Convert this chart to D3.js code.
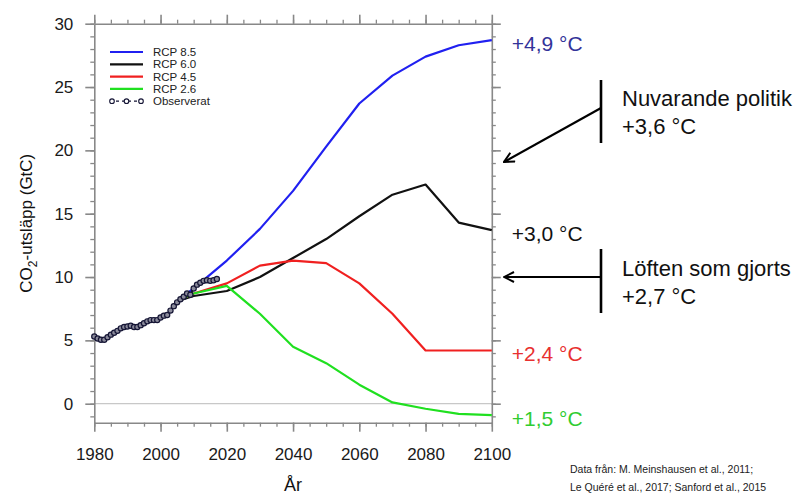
<!DOCTYPE html>
<html>
<head>
<meta charset="utf-8">
<script src="https://cdn.jsdelivr.net/npm/d3@7"></script>
<style>
  body { margin: 0; background: #fff; }
  svg { font-family: "Liberation Sans", Arial, sans-serif; }
</style>
</head>
<body>
<svg id="chart" width="802" height="495"></svg>
<script>
// scenario years and values (GtC)
const rcpYears = [2005, 2010, 2020, 2030, 2040, 2050, 2060, 2070, 2080, 2090, 2100];
const rcp85 = [8.1, 9.1, 11.3, 13.8, 16.8, 20.3, 23.7, 25.9, 27.4, 28.3, 28.7];
const rcp60 = [8.1, 8.5, 8.9, 10.0, 11.5, 13.0, 14.8, 16.5, 17.3, 14.3, 13.7];
const rcp45 = [8.1, 8.7, 9.5, 10.9, 11.3, 11.1, 9.5, 7.1, 4.2, 4.2, 4.2];
const rcp26 = [8.1, 8.7, 9.3, 7.1, 4.5, 3.2, 1.5, 0.1, -0.4, -0.8, -0.9];

const obsYears = d3.range(1980, 2018);
const obsValues = [5.3, 5.15, 5.05, 5.05, 5.25, 5.45, 5.6, 5.75, 5.95, 6.05,
                   6.1, 6.15, 6.05, 6.05, 6.2, 6.35, 6.5, 6.6, 6.6, 6.6,
                   6.8, 6.95, 7.0, 7.35, 7.7, 8.0, 8.25, 8.45, 8.7, 8.6,
                   9.1, 9.4, 9.55, 9.7, 9.75, 9.7, 9.75, 9.85];

const seriesNames = ["RCP 8.5", "RCP 6.0", "RCP 4.5", "RCP 2.6"];
const seriesColors = ["#2020f0", "#111111", "#f02020", "#20e020"];
const endLabels = ["+4,9 °C", "+3,0 °C", "+2,4 °C", "+1,5 °C"];
const endLabelColors = ["#333399", "#111111", "#e83030", "#30cc30"];

const svg = d3.select("#chart");
const pL = 94.3, pR = 491.8, pT = 23.7, pB = 422.7;

const x = d3.scaleLinear().domain([1980, 2100]).range([pL, pR]);
const y = d3.scaleLinear().domain([-1.5, 30]).range([pB, pT]);

const axisColor = "#888";

// zero line
svg.append("line")
    .attr("x1", pL).attr("x2", pR)
    .attr("y1", y(0)).attr("y2", y(0))
    .attr("stroke", "#c8c8c8").attr("stroke-width", 1.3);

// minor ticks
function minor(axis, sel){
    sel.call(axis.tickFormat("").tickSizeOuter(0));
    sel.select(".domain").remove();
    sel.selectAll("line").attr("stroke", axisColor).attr("stroke-width", 1.3);
}
const minorX = d3.range(1980, 2101, 5);
const minorY = d3.range(-1, 31, 1);
minor(d3.axisBottom(x).tickValues(minorX).tickSize(4), svg.append("g").attr("transform", `translate(0,${pB})`));
minor(d3.axisTop(x).tickValues(minorX).tickSize(4), svg.append("g").attr("transform", `translate(0,${pT})`));
minor(d3.axisLeft(y).tickValues(minorY).tickSize(4), svg.append("g").attr("transform", `translate(${pL},0)`));
minor(d3.axisRight(y).tickValues(minorY).tickSize(4), svg.append("g").attr("transform", `translate(${pR},0)`));

// major ticks
function major(sel){
    sel.select(".domain").attr("stroke", axisColor).attr("stroke-width", 1.6);
    sel.selectAll("line").attr("stroke", axisColor).attr("stroke-width", 1.6);
    sel.selectAll("text").attr("fill", "#1a1a1a").style("font-size", "17px");
}
const xt = d3.range(1980, 2101, 20), yt = d3.range(0, 31, 5);
svg.append("g").attr("transform", `translate(0,${pB})`)
    .call(d3.axisBottom(x).tickValues(xt).tickFormat(d3.format("d")).tickSize(9).tickPadding(16).tickSizeOuter(0))
    .call(major);
svg.append("g").attr("transform", `translate(0,${pT})`)
    .call(d3.axisTop(x).tickValues(xt).tickFormat("").tickSize(9).tickSizeOuter(0))
    .call(major);
svg.append("g").attr("transform", `translate(${pL},0)`)
    .call(d3.axisLeft(y).tickValues(yt).tickSize(9).tickPadding(12).tickSizeOuter(0))
    .call(major);
svg.append("g").attr("transform", `translate(${pR},0)`)
    .call(d3.axisRight(y).tickValues(yt).tickFormat("").tickSize(9).tickSizeOuter(0))
    .call(major);

// axis titles
const yl = svg.append("text")
    .attr("transform", `translate(32,${(pT + pB) / 2}) rotate(-90)`)
    .attr("text-anchor", "middle")
    .style("font-size", "17px").attr("fill", "#111");
yl.append("tspan").text("CO");
yl.append("tspan").text("2").attr("dy", 5).style("font-size", "12px");
yl.append("tspan").text("-utsläpp (GtC)").attr("dy", -5);

svg.append("text")
    .attr("x", (pL + pR) / 2).attr("y", 491)
    .attr("text-anchor", "middle")
    .style("font-size", "18px").attr("fill", "#111")
    .text("År");

// scenario lines
const line = d3.line().x(d => x(d[0])).y(d => y(d[1]));
const allSeries = [rcp85, rcp60, rcp45, rcp26];
allSeries.forEach(function(vals, i){
    svg.append("path")
        .datum(rcpYears.map((yr, j) => [yr, vals[j]]))
        .attr("d", line)
        .attr("fill", "none")
        .attr("stroke", seriesColors[i])
        .attr("stroke-width", 2.2)
        .attr("stroke-linejoin", "round");
});

// observed
const obs = obsYears.map((yr, j) => [yr, obsValues[j]]);
svg.append("path")
    .datum(obs)
    .attr("d", line)
    .attr("fill", "none")
    .attr("stroke", "#151535")
    .attr("stroke-width", 2);
svg.append("g").selectAll("circle")
    .data(obs)
    .enter()
    .append("circle")
        .attr("cx", d => x(d[0]))
        .attr("cy", d => y(d[1]))
        .attr("r", 2.6)
        .attr("fill", "#8a8a9a")
        .attr("stroke", "#151535")
        .attr("stroke-width", 1.2);

// end labels
allSeries.forEach(function(vals, i){
    let yy = y(vals[vals.length - 1]) + 3;
    svg.append("text")
        .attr("x", pR + 20).attr("y", yy)
        .attr("dy", "0.36em")
        .style("font-size", "21px")
        .attr("fill", endLabelColors[i])
        .text(endLabels[i]);
});

// legend
const rowH = 12.3;
const lg = svg.append("g").attr("transform", "translate(110,52)");
seriesNames.forEach(function(n, i){
    lg.append("line")
        .attr("x1", 0).attr("x2", 33)
        .attr("y1", i * rowH).attr("y2", i * rowH)
        .attr("stroke", seriesColors[i]).attr("stroke-width", 2.2);
    lg.append("text")
        .attr("x", 43).attr("y", i * rowH).attr("dy", "0.36em")
        .style("font-size", "11.5px").attr("fill", "#222")
        .text(n);
});
lg.append("line")
    .attr("x1", 0).attr("x2", 33).attr("y1", 4 * rowH).attr("y2", 4 * rowH)
    .attr("stroke", "#151535").attr("stroke-width", 1.2).attr("stroke-dasharray", "3,3");
[2, 16.5, 31].forEach(function(cx){
    lg.append("circle").attr("cx", cx).attr("cy", 4 * rowH).attr("r", 2.3)
        .attr("fill", "#fff").attr("stroke", "#151535").attr("stroke-width", 1.1);
});
lg.append("text")
    .attr("x", 43).attr("y", 4 * rowH).attr("dy", "0.36em")
    .style("font-size", "11.5px").attr("fill", "#222")
    .text("Observerat");

// annotations
svg.append("defs").append("marker")
    .attr("id", "arrow")
    .attr("viewBox", "0 0 12 12")
    .attr("refX", 1).attr("refY", 6)
    .attr("markerWidth", 12).attr("markerHeight", 12)
    .attr("markerUnits", "userSpaceOnUse")
    .attr("orient", "auto")
    .append("path")
        .attr("d", "M11,1 L1,6 L11,11")
        .attr("fill", "none").attr("stroke", "#000").attr("stroke-width", 2);

const notes = [
    {y1: 80, y2: 143, from: 108, to: [504, 162], t1: "Nuvarande politik", t2: "+3,6 °C", ty: 98},
    {y1: 249, y2: 313, from: 277, to: [504, 277], t1: "Löften som gjorts", t2: "+2,7 °C", ty: 268}
];
notes.forEach(function(n){
    svg.append("line")
        .attr("x1", 601).attr("x2", 601).attr("y1", n.y1).attr("y2", n.y2)
        .attr("stroke", "#000").attr("stroke-width", 2.6);
    svg.append("line")
        .attr("x1", n.to[0]).attr("y1", n.to[1]).attr("x2", 601).attr("y2", n.from)
        .attr("stroke", "#000").attr("stroke-width", 2.2)
        .attr("marker-start", "url(#arrow)");
    svg.append("text").attr("x", 622).attr("y", n.ty).attr("dy", "0.36em")
        .style("font-size", "22px").attr("fill", "#111").text(n.t1);
    svg.append("text").attr("x", 622).attr("y", n.ty + 28).attr("dy", "0.36em")
        .style("font-size", "22px").attr("fill", "#111").text(n.t2);
});

// source
svg.append("text").attr("x", 570).attr("y", 473)
    .style("font-size", "10.5px").attr("fill", "#222")
    .text("Data från: M. Meinshausen et al., 2011;");
svg.append("text").attr("x", 570).attr("y", 491)
    .style("font-size", "10.5px").attr("fill", "#222")
    .text("Le Quéré et al., 2017; Sanford et al., 2015");
</script>
</body>
</html>
